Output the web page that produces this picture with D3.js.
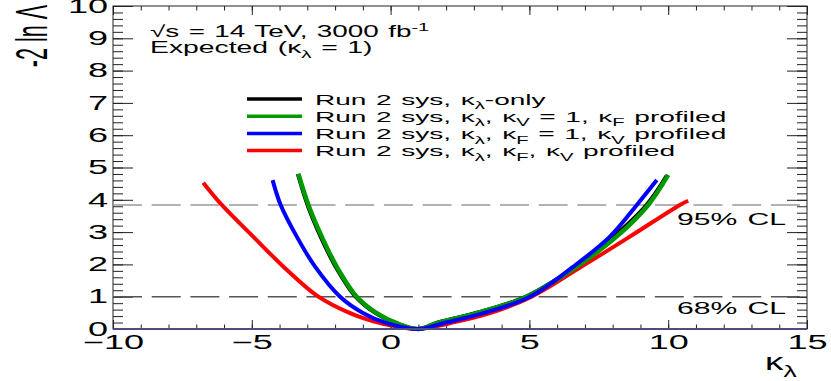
<!DOCTYPE html>
<html>
<head>
<meta charset="utf-8">
<script src="https://cdn.jsdelivr.net/npm/d3@7"></script>
<style>
  body { margin: 0; background: #fff; }
  svg { display: block; font-family: "Liberation Sans", Arial, Helvetica, sans-serif; }
</style>
</head>
<body>
<svg id="chart" width="831" height="381"></svg>
<script>
// likelihood scans, -2 ln Lambda vs kappa_lambda
const redKl = [-6.75, -6.08, -4.95, -3.86, -2.60, -1.46, -0.38, 0.34, 1.0, 2.14, 3.58, 5.08, 6.88, 8.62, 10.42, 10.72];
const redNll = [4.53, 3.84, 2.86, 1.93, 1.0, 0.49, 0.18, 0.06, 0.0, 0.18, 0.49, 1.0, 1.93, 2.86, 3.84, 3.97];

const blueKl = [-4.25, -3.96, -3.38, -2.72, -1.82, -0.98, -0.14, 1.0, 1.90, 3.34, 5.02, 6.58, 7.90, 8.87, 9.59];
const blueNll = [4.61, 3.84, 2.86, 1.93, 1.0, 0.49, 0.18, 0.0, 0.18, 0.49, 1.0, 1.93, 2.86, 3.84, 4.61];

const greenKl = [-3.32, -2.96, -2.48, -1.94, -1.22, -0.50, 0.22, 1.0, 1.66, 3.10, 4.90, 6.70, 8.14, 9.28, 10.0];
const greenNll = [4.80, 3.84, 2.86, 1.93, 1.0, 0.49, 0.18, 0.0, 0.18, 0.49, 1.0, 1.93, 2.86, 3.84, 4.77];

const blackKl = [-3.34, -2.99, -2.52, -1.98, -1.26, -0.54, 0.19, 1.0, 1.63, 3.04, 4.87, 6.66, 8.04, 9.22, 9.95];
const blackNll = [4.80, 3.84, 2.86, 1.93, 1.0, 0.49, 0.18, 0.0, 0.18, 0.49, 1.0, 1.93, 2.86, 3.84, 4.75];

const clLevels = [1, 3.84];
const xMajor = [-10, -5, 0, 5, 10, 15];
const yMajor = [0, 1, 2, 3, 4, 5, 6, 7, 8, 9, 10];

const legendRows = [
  [['Run 2 sys, κ'], ['λ', 'sub'], ['-only']],
  [['Run 2 sys, κ'], ['λ', 'sub'], [', κ'], ['V', 'sub'], [' = 1, κ'], ['F', 'sub'], [' profiled']],
  [['Run 2 sys, κ'], ['λ', 'sub'], [', κ'], ['F', 'sub'], [' = 1, κ'], ['V', 'sub'], [' profiled']],
  [['Run 2 sys, κ'], ['λ', 'sub'], [', κ'], ['F', 'sub'], [', κ'], ['V', 'sub'], [' profiled']]
];

const FRAME = { left: 113, right: 807, top: 6, bottom: 329 };
const SX = 1.85; // text in the reference is stretched horizontally

const svg = d3.select('#chart');

const x = d3.scaleLinear().domain([-10, 15]).range([FRAME.left, FRAME.right]);
const y = d3.scaleLinear().domain([0, 10]).range([FRAME.bottom, FRAME.top]);

function addText(px, py, parts, size, anchor = 'start', sx = SX) {
  const t = svg.append('text')
    .attr('transform', `translate(${px},${py}) scale(${sx},1)`)
    .attr('font-size', size)
    .attr('text-anchor', anchor)
    .attr('fill', '#000')
    .style('word-spacing', '1px');
  let shift = 0;
  parts.forEach(([s, kind]) => {
    const target = kind === 'sub' ? size * 0.3 : kind === 'sup' ? -size * 0.4 : 0;
    const ts = t.append('tspan').text(s).attr('dy', target - shift);
    if (kind) ts.attr('font-size', size * 0.72);
    shift = target;
  });
  return t;
}

// frame
svg.append('rect')
  .attr('x', FRAME.left).attr('y', FRAME.top)
  .attr('width', FRAME.right - FRAME.left)
  .attr('height', FRAME.bottom - FRAME.top)
  .attr('fill', 'none').attr('stroke', '#222').attr('stroke-width', 1);

function tickAxis(axis, tx, ty) {
  const g = svg.append('g').attr('transform', `translate(${tx},${ty})`).call(axis);
  g.select('.domain').remove();
  g.selectAll('line').attr('stroke', '#222');
  return g;
}

// minor ticks
tickAxis(d3.axisBottom(x).tickValues(d3.range(-10, 16, 1)).tickSize(-4.5).tickFormat(''), 0, FRAME.bottom);
tickAxis(d3.axisTop(x).tickValues(d3.range(-10, 16, 1)).tickSize(-4.5).tickFormat(''), 0, FRAME.top);
tickAxis(d3.axisLeft(y).tickValues(d3.range(0, 10.01, 0.2)).tickSize(-10).tickFormat(''), FRAME.left, 0);
tickAxis(d3.axisRight(y).tickValues(d3.range(0, 10.01, 0.2)).tickSize(-10).tickFormat(''), FRAME.right, 0);

// major ticks
const xAxisG = tickAxis(d3.axisBottom(x).tickValues(xMajor).tickSize(-9).tickPadding(6), 0, FRAME.bottom);
tickAxis(d3.axisTop(x).tickValues(xMajor).tickSize(-9).tickFormat(''), 0, FRAME.top);
const yAxisG = tickAxis(d3.axisLeft(y).tickValues(yMajor).tickSize(-20), FRAME.left, 0);
tickAxis(d3.axisRight(y).tickValues(yMajor).tickSize(-20).tickFormat(''), FRAME.right, 0);

xAxisG.selectAll('text')
  .attr('font-size', 19.5).attr('fill', '#000')
  .attr('font-family', '"Liberation Sans", Arial, sans-serif')
  .attr('transform', `scale(${SX},1)`);
yAxisG.selectAll('text')
  .attr('font-size', 19.5).attr('fill', '#000')
  .attr('font-family', '"Liberation Sans", Arial, sans-serif')
  .attr('x', -5 / SX)
  .attr('transform', `scale(${SX},1)`);

// CL lines
svg.append('g').selectAll('line')
  .data(clLevels)
  .join('line')
  .attr('x1', FRAME.left).attr('x2', FRAME.right)
  .attr('y1', d => y(d)).attr('y2', d => y(d))
  .attr('stroke', d => (d === 1 ? '#555' : '#999'))
  .attr('stroke-width', 1.5)
  .attr('stroke-dasharray', '29,9.7');

// curves
const line = d3.line()
  .x(d => x(d[0]))
  .y(d => y(d[1]))
  .curve(d3.curveCatmullRom.alpha(0.5));

const series = [
  { kl: redKl, nll: redNll, color: '#ff0000', w: 4 },
  { kl: blackKl, nll: blackNll, color: '#000000', w: 4 },
  { kl: greenKl, nll: greenNll, color: '#009a00', w: 4.5 },
  { kl: blueKl, nll: blueNll, color: '#0000ff', w: 4 }
];

svg.append('g').selectAll('path')
  .data(series)
  .join('path')
  .attr('d', d => line(d.kl.map((k, i) => [k, d.nll[i]])))
  .attr('fill', 'none')
  .attr('stroke', d => d.color)
  .attr('stroke-width', d => d.w);

// bottom axis line
svg.append('line')
  .attr('x1', FRAME.left).attr('x2', FRAME.right)
  .attr('y1', FRAME.bottom).attr('y2', FRAME.bottom)
  .attr('stroke', '#4c4c80').attr('stroke-width', 2);

// legend
const legendColors = ['#000000', '#009a00', '#0000ff', '#ff0000'];
legendRows.forEach((parts, i) => {
  const ly = 99 + i * 17.2;
  svg.append('line')
    .attr('x1', 247).attr('x2', 302)
    .attr('y1', ly).attr('y2', ly)
    .attr('stroke', legendColors[i]).attr('stroke-width', 3.5);
  addText(315, ly + 5.5, parts, 15.5, 'start', 1.81);
});

// annotations
addText(150, 37, [['√s = 14 TeV, 3000 fb'], ['-1', 'sup']], 16, 'start', 1.74);
addText(150, 53, [['Expected (κ'], ['λ', 'sub'], [' = 1)']], 16, 'start', 1.77);
addText(677, 225, [['95% CL']], 16.3);
addText(677, 313.5, [['68% CL']], 16.3);

// axis titles
addText(765, 370, [['κ'], ['λ', 'sub']], 23, 'start', 1.6);
svg.append('text')
  .attr('transform', `translate(47,5) scale(2.1,1) rotate(-90)`)
  .attr('font-size', 21.5)
  .attr('text-anchor', 'end')
  .text('-2 ln Λ');
</script>
</body>
</html>
